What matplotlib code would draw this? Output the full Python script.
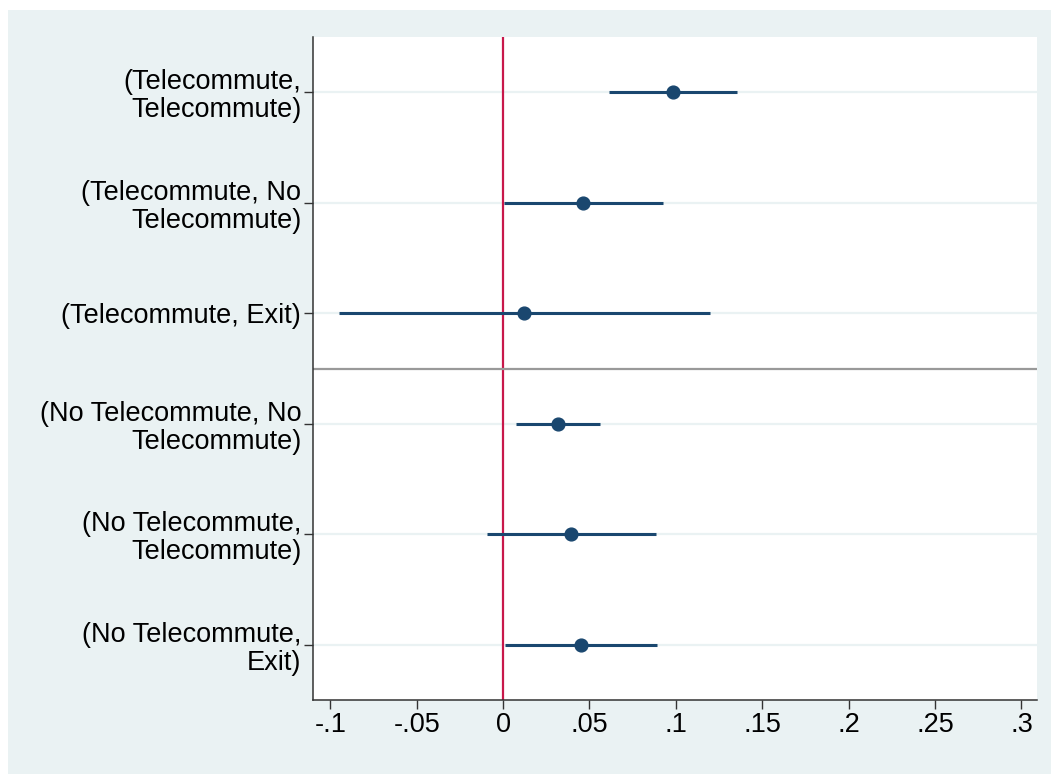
import matplotlib
matplotlib.use('Agg')
import matplotlib.pyplot as plt
from matplotlib.patches import Rectangle

# coefficient estimates with 95% CI, top to bottom
labels = ['(Telecommute,\nTelecommute)',
          '(Telecommute, No\nTelecommute)',
          '(Telecommute, Exit)',
          '(No Telecommute, No\nTelecommute)',
          '(No Telecommute,\nTelecommute)',
          '(No Telecommute,\nExit)']
coef = [0.0985, 0.0465, 0.0123, 0.0317, 0.0394, 0.0452]
ci_lo = [0.0614, 0.0006, -0.0950, 0.0074, -0.0094, 0.0012]
ci_hi = [0.1354, 0.0923, 0.1199, 0.0562, 0.0885, 0.0890]
xticks = [-0.1, -0.05, 0, 0.05, 0.1, 0.15, 0.2, 0.25, 0.3]
xticklabels = ['-.1', '-.05', '0', '.05', '.1', '.15', '.2', '.25', '.3']

navy = '#1A476F'
bluishgray = '#EAF2F3'
plt.rcParams['font.family'] = ['Liberation Sans', 'DejaVu Sans']

fig = plt.figure(figsize=(10.51, 7.74), dpi=100, facecolor='white')
# stata-like graph region behind the plot
fig.add_artist(Rectangle((8 / 1051, 0), 1, 1 - 10 / 774, transform=fig.transFigure,
                         facecolor=bluishgray, edgecolor='none', zorder=-10))
ax = fig.add_axes([313 / 1051, 1 - 700 / 774, (1037 - 313) / 1051, (700 - 37) / 774])
ax.set_facecolor('white')

ypos = list(range(1, len(labels) + 1))
for y in ypos:
    ax.axhline(y, color=bluishgray, lw=1.6, zorder=1)
ax.axvline(0, color='#C8184A', lw=1.6, zorder=2)
ax.axhline(3.5, color='#999999', lw=1.6, zorder=2)

ax.hlines(ypos, ci_lo, ci_hi, color=navy, lw=2.2, zorder=3)
ax.plot(coef, ypos, 'o', color=navy, ms=9.2, zorder=4)

ax.set_xlim(-0.110, 0.309)
ax.set_ylim(6.5, 0.5)
ax.set_yticks(ypos)
ax.set_yticklabels(labels, fontsize=19.5, ha='right', multialignment='right',
                   linespacing=1.1)
ax.set_xticks(xticks)
ax.set_xticklabels(xticklabels, fontsize=19.5)

for side in ['top', 'right']:
    ax.spines[side].set_visible(False)
for side in ['left', 'bottom']:
    ax.spines[side].set_linewidth(1.1)
    ax.spines[side].set_color('#333333')
ax.tick_params(axis='both', length=6.5, width=1.0, color='#333333', pad=2)

fig.savefig('out.png', dpi=100, facecolor=fig.get_facecolor())
